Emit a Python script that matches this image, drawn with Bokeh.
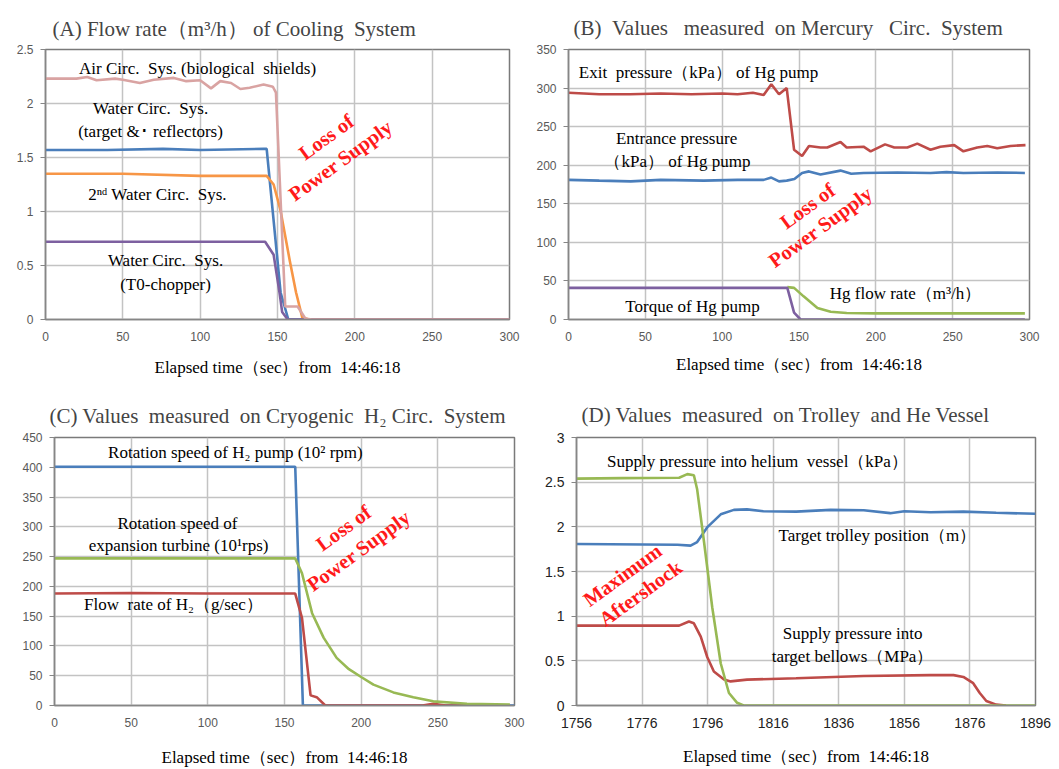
import math
from bokeh.plotting import figure
from bokeh.layouts import column, row
from bokeh.models import FixedTicker, CustomJSTickFormatter, Range1d
from bokeh.core.properties import value
from bokeh.embed import file_html
from bokeh.resources import INLINE

# ---------------- Panel A: Flow rate of Cooling System ----------------
a_air_t = [0, 10, 20, 27, 33, 45, 50, 61, 70, 83, 91, 100, 107, 113, 120, 126, 132, 141, 147, 149, 155, 163, 168, 172, 300]
a_air_v = [2.23, 2.23, 2.23, 2.245, 2.215, 2.23, 2.22, 2.19, 2.22, 2.237, 2.207, 2.215, 2.14, 2.207, 2.19, 2.134, 2.146, 2.176, 2.155, 2.1, 0.12, 0.12, 0.01, 0, 0]
a_tgt_t = [0, 40, 76, 100, 141, 143, 152, 157, 300]
a_tgt_v = [1.57, 1.57, 1.58, 1.57, 1.58, 1.58, 0.25, 0.0, 0.0]
a_2nd_t = [0, 50, 100, 130, 143, 147.5, 151.8, 158, 162, 166, 170, 300]
a_2nd_v = [1.35, 1.35, 1.33, 1.33, 1.33, 1.25, 1.02, 0.54, 0.25, 0.02, 0, 0]
a_t0_t = [0, 142, 147.5, 151.4, 153, 156.6, 300]
a_t0_v = [0.72, 0.72, 0.6, 0.24, 0.07, 0, 0]

# ---------------- Panel B: Mercury Circ. System ----------------
b_exit_t = [0, 20, 40, 60, 80, 100, 110, 120, 127, 132, 137, 142, 146.8, 152, 156.5, 164, 168.4, 177, 181, 192, 196.6, 206, 212, 220.5, 227, 235.6, 242, 251, 257, 266, 272.5, 279, 287.6, 297.4]
b_exit_v = [294, 292, 292, 293, 292, 293, 292, 294, 291, 305, 292, 300, 220, 212, 225, 223, 223, 230, 223, 224, 218, 227, 223, 223, 228, 220, 224, 226, 218, 223, 225, 222, 225, 226]
b_ent_t = [0, 20, 40.5, 60, 88, 110, 127, 132, 137, 142, 147, 152, 156.5, 164, 177, 184, 192, 214, 235.6, 246, 257, 279, 297]
b_ent_v = [181, 180, 179, 181, 180, 181, 181, 184, 179, 180, 182, 190, 192, 188, 193, 189, 190, 190.6, 190, 191, 190, 190.6, 190]
b_torque_t = [0, 142.4, 146.8, 151, 297]
b_torque_v = [41, 41, 9, 0, 0]
b_flow_t = [142.4, 146.8, 153, 162, 170.6, 181, 200, 297]
b_flow_v = [42, 41, 30, 15, 10, 8.5, 8, 8]

# ---------------- Panel C: Cryogenic H2 Circ. System ----------------
c_pump_t = [0, 50, 100, 157, 162, 300]
c_pump_v = [401, 401, 401, 401, 0, 0]
c_turb_t = [0, 157, 161.4, 168, 175.5, 184, 192, 200.5, 208, 221, 234, 247, 269, 297]
c_turb_v = [247, 247, 222, 155, 114, 80, 61, 47, 35, 22, 14, 7, 3, 1.7]
c_flow_t = [0, 50, 100, 157, 161.4, 167, 171, 176.6, 240, 247, 255, 297]
c_flow_v = [188, 189, 188, 188, 147, 17, 14, 0, 0, 3, 0, 0]

# ---------------- Panel D: Trolley and He Vessel ----------------
d_he_t = [1756, 1770, 1787.3, 1789.8, 1791.8, 1792.8, 1794.9, 1797.4, 1800, 1802.5, 1805, 1807, 1896]
d_he_v = [2.54, 2.545, 2.55, 2.59, 2.577, 2.42, 1.83, 1.1, 0.47, 0.14, 0.03, 0, 0]
d_trol_t = [1756, 1786.8, 1790.8, 1792.8, 1796, 1800, 1804, 1808, 1813, 1823, 1833.5, 1843.6, 1851.7, 1856, 1864, 1874, 1884, 1896]
d_trol_v = [1.807, 1.80, 1.79, 1.83, 2.0, 2.14, 2.19, 2.195, 2.175, 2.17, 2.19, 2.186, 2.153, 2.175, 2.164, 2.17, 2.157, 2.146]
d_bel_t = [1756, 1787.3, 1790.3, 1791.8, 1793.9, 1795.9, 1797.9, 1801, 1803, 1808, 1823, 1843.6, 1863.9, 1871, 1874, 1877, 1879, 1881, 1884, 1887]
d_bel_v = [0.894, 0.894, 0.94, 0.92, 0.77, 0.54, 0.38, 0.29, 0.27, 0.29, 0.305, 0.33, 0.34, 0.34, 0.32, 0.25, 0.14, 0.05, 0.01, 0]

x_ticks_abc = [0, 50, 100, 150, 200, 250, 300]
y_ticks_a = [0, 0.5, 1, 1.5, 2, 2.5]
y_ticks_b = [0, 50, 100, 150, 200, 250, 300, 350]
y_ticks_c = [0, 50, 100, 150, 200, 250, 300, 350, 400, 450]
x_ticks_d = [1756, 1776, 1796, 1816, 1836, 1856, 1876, 1896]
y_ticks_d = [0, 0.5, 1, 1.5, 2, 2.5, 3]

BLUE = "#4a7ebb"
RED = "#be4b48"
GREEN = "#98b954"
PURPLE = "#7d60a0"
ORANGE = "#f79646"
PINK = "#d9a3a2"
SERIF = "Liberation Serif"
NB = "\u00a0"
XLABEL = "Elapsed time（sec）from " + NB + "14:46:18"


def sp(s):
    # keep the wide spacing of the original texts
    return s.replace("  ", " " + NB)


def make_fig(w, h, xr, yr, xt, yt, bl, br, bt, bb, title, toff, tstand, lstand,
             tick_size="12px", tick_color="#595959"):
    p = figure(width=w, height=h, x_range=Range1d(*xr), y_range=Range1d(*yr),
               output_backend="svg", toolbar_location=None,
               min_border_left=bl, min_border_right=br, min_border_top=bt, min_border_bottom=bb,
               background_fill_color="white", border_fill_color="white")
    p.xaxis.ticker = FixedTicker(ticks=xt)
    p.yaxis.ticker = FixedTicker(ticks=yt)
    p.xaxis.formatter = CustomJSTickFormatter(code="return tick.toString();")
    p.yaxis.formatter = CustomJSTickFormatter(code="return tick.toString();")
    for ax in (p.xaxis[0], p.yaxis[0]):
        ax.major_label_text_font = "Liberation Sans"
        ax.major_label_text_font_size = tick_size
        ax.major_label_text_color = tick_color
        ax.axis_line_color = "#868686"
        ax.axis_line_width = 1.5
        ax.major_tick_line_color = "#868686"
        ax.minor_tick_line_color = None
        ax.major_tick_in = 0
    p.yaxis.major_tick_out = 5
    p.xaxis.major_tick_out = 0
    p.xaxis.major_label_standoff = 12
    p.yaxis.major_label_standoff = 7
    p.xaxis.axis_label = XLABEL
    p.xaxis.axis_label_text_font = SERIF
    p.xaxis.axis_label_text_font_size = "17px"
    p.xaxis.axis_label_text_font_style = "normal"
    p.xaxis.axis_label_text_color = "black"
    p.xaxis.axis_label_standoff = lstand
    p.grid.grid_line_color = "#c3c3c3"
    p.grid.grid_line_width = 1.5
    p.outline_line_color = "#7a7a7a"
    p.outline_line_width = 1.5
    p.title.text = sp(title)
    p.title.text_font = SERIF
    p.title.text_font_size = "21px"
    p.title.text_font_style = "normal"
    p.title.align = "left"
    p.title.offset = toff
    p.title.standoff = tstand
    return p


def txt(p, x, y, s, size="17px", color="black", angle=0.0, bold=False):
    p.text(x=[x], y=[y], text=[sp(s)], text_font=value(SERIF), text_font_size=size,
           text_color=color, angle=angle, text_align="center", text_baseline="middle",
           text_font_style="bold" if bold else "normal")


ANG = math.radians(36)
LW = 2.6
RSZ = "20.5px"
RC = "#ff1a1a"

# Panel A
pa = make_fig(530, 390, (0, 300), (0, 2.5), x_ticks_abc, y_ticks_a, 45, 21, 44, 71,
              "(A) Flow rate（m³/h） of Cooling  System", 7, 17, 14)
pa.line(a_tgt_t, a_tgt_v, line_color=BLUE, line_width=LW)
pa.line(a_2nd_t, a_2nd_v, line_color=ORANGE, line_width=LW)
pa.line(a_t0_t, a_t0_v, line_color=PURPLE, line_width=LW)
pa.line(a_air_t, a_air_v, line_color=PINK, line_width=LW)
txt(pa, 98.3, 2.327, "Air Circ.  Sys. (biological  shields)")
txt(pa, 67.9, 1.955, "Water Circ.  Sys.")
txt(pa, 67.9, 1.745, "(target &･ reflectors)")
txt(pa, 72.4, 1.155, "2ⁿᵈ Water Circ.  Sys.")
txt(pa, 77.6, 0.545, "Water Circ.  Sys.")
txt(pa, 77.6, 0.327, "(T0-chopper)")
txt(pa, 181.5, 1.69, "Loss of", size=RSZ, color=RC, angle=ANG, bold=True)
txt(pa, 190.7, 1.473, "Power Supply", size=RSZ, color=RC, angle=ANG, bold=True)

# Panel B
pb = make_fig(529, 390, (0, 300), (0, 350), x_ticks_abc, y_ticks_b, 38, 30, 49, 68,
              "(B)  Values   measured  on Mercury   Circ.  System", 5, 20, 11)
pb.line(b_exit_t, b_exit_v, line_color=RED, line_width=LW)
pb.line(b_ent_t, b_ent_v, line_color=BLUE, line_width=LW)
pb.line(b_flow_t, b_flow_v, line_color=GREEN, line_width=LW)
pb.line(b_torque_t, b_torque_v, line_color=PURPLE, line_width=LW)
txt(pb, 84.6, 320.5, "Exit  pressure（kPa） of Hg pump")
txt(pb, 70.3, 234.6, "Entrance pressure")
txt(pb, 70.9, 205, "（kPa） of Hg pump")
txt(pb, 155.5, 147, "Loss of", size=RSZ, color=RC, angle=ANG, bold=True)
txt(pb, 164, 120, "Power Supply", size=RSZ, color=RC, angle=ANG, bold=True)
txt(pb, 219.3, 33.3, "Hg flow rate（m³/h）")
txt(pb, 80.7, 16.7, "Torque of Hg pump")

# Panel C
pc = make_fig(530, 379, (0, 300), (0, 450), x_ticks_abc, y_ticks_c, 54, 16, 44, 64,
              "(C) Values  measured  on Cryogenic  H₂ Circ.  System", -5, 20, 18)
pc.line(c_pump_t, c_pump_v, line_color=BLUE, line_width=LW)
pc.line(c_flow_t, c_flow_v, line_color=RED, line_width=LW)
pc.line(c_turb_t, c_turb_v, line_color=GREEN, line_width=LW)
txt(pc, 118, 425, "Rotation speed of H₂ pump (10² rpm)")
txt(pc, 80.2, 305.5, "Rotation speed of")
txt(pc, 80.9, 269, "expansion turbine (10¹rps)")
txt(pc, 77.6, 169.4, "Flow  rate of H₂（g/sec）")
txt(pc, 188.5, 298, "Loss of", size=RSZ, color=RC, angle=ANG, bold=True)
txt(pc, 198.3, 260, "Power Supply", size=RSZ, color=RC, angle=ANG, bold=True)

# Panel D
pd_ = make_fig(529, 379, (1756, 1896), (0, 3), x_ticks_d, y_ticks_d, 46, 24, 44, 63,
               "(D) Values  measured  on Trolley  and He Vessel", 5, 21, 16,
               tick_size="14px", tick_color="#222222")
pd_.line(d_trol_t, d_trol_v, line_color=BLUE, line_width=LW)
pd_.line(d_bel_t, d_bel_v, line_color=RED, line_width=LW)
pd_.line(d_he_t, d_he_v, line_color=GREEN, line_width=LW)
txt(pd_, 1811.2, 2.735, "Supply pressure into helium  vessel（kPa）")
txt(pd_, 1847.8, 1.908, "Target trolley position（m）")
txt(pd_, 1840.2, 0.805, "Supply pressure into")
txt(pd_, 1840.2, 0.551, "target bellows（MPa）")
txt(pd_, 1770, 1.46, "Maximum", size=RSZ, color=RC, angle=ANG, bold=True)
txt(pd_, 1775.5, 1.257, "Aftershock", size=RSZ, color=RC, angle=ANG, bold=True)

layout = column(row(pa, pb, spacing=0), row(pc, pd_, spacing=0), spacing=0)
open("out.html", "w").write(file_html(layout, INLINE))
